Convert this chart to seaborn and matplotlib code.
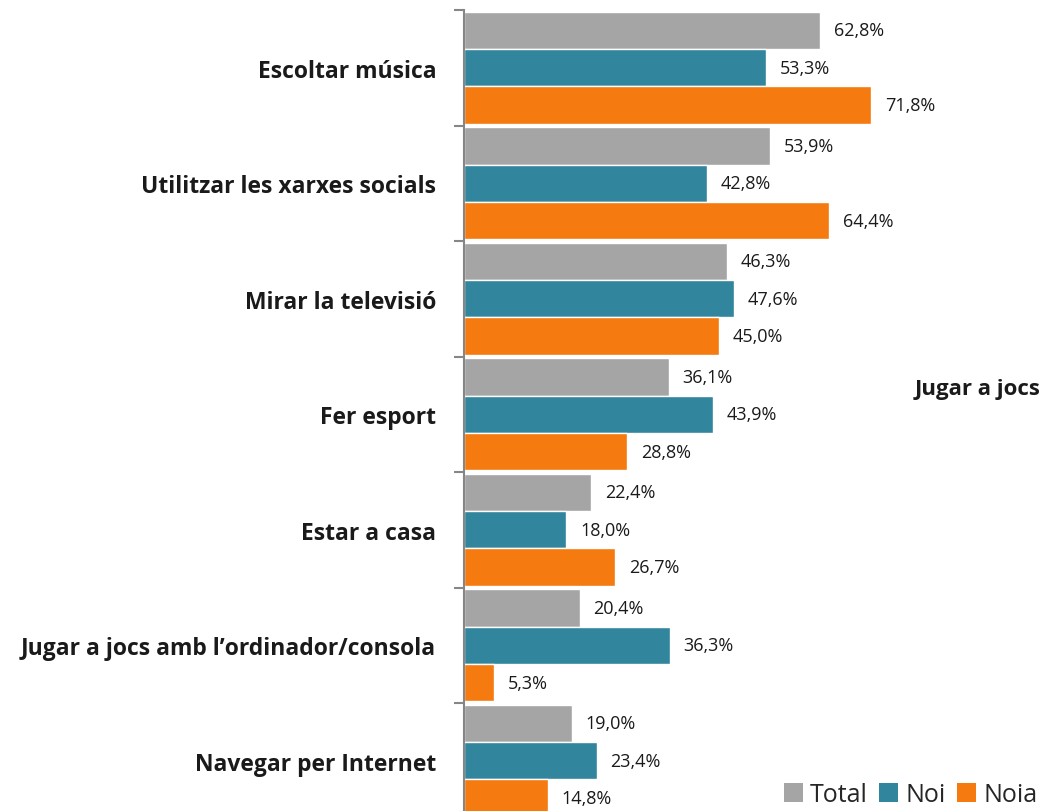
import matplotlib
matplotlib.use("Agg")
import matplotlib.pyplot as plt
import seaborn as sns
import pandas as pd
from matplotlib.patches import Patch
from matplotlib.ticker import FixedLocator

categories = ["Escoltar música", "Utilitzar les xarxes socials", "Mirar la televisió",
              "Fer esport", "Estar a casa", "Jugar a jocs amb l\u2019ordinador/consola",
              "Navegar per Internet"]
series = ["Total", "Noi", "Noia"]
total = [62.8, 53.9, 46.3, 36.1, 22.4, 20.4, 19.0]
noi = [53.3, 42.8, 47.6, 43.9, 18.0, 36.3, 23.4]
noia = [71.8, 64.4, 45.0, 28.8, 26.7, 5.3, 14.8]
colors = ["#A5A5A5", "#31859C", "#F57A10"]

rows = []
for s, vals in zip(series, [total, noi, noia]):
    for c, v in zip(categories, vals):
        rows.append({"cat": c, "serie": s, "val": v})
df = pd.DataFrame(rows)

sns.set_theme(style="white")
plt.rcParams["font.family"] = ["Open Sans", "DejaVu Sans"]

W, H = 1042, 812
fig = plt.figure(figsize=(W / 100, H / 100), dpi=100)
x0, xtop, ybot = 464, 11, 819.5
xw = 567
ax = fig.add_axes([x0 / W, (H - ybot) / H, xw / W, (ybot - xtop) / H])

sns.barplot(data=df, y="cat", x="val", hue="serie", order=categories, hue_order=series,
            palette=colors, saturation=1, orient="h", width=0.97, ax=ax, edgecolor="white",
            linewidth=1.0, legend=False)

ax.set_xlim(0, 100)
ax.set_ylim(6.5, -0.5)
ax.set_xlabel("")
ax.set_ylabel("")
ax.set_xticks([])
for sp in ["top", "right", "bottom"]:
    ax.spines[sp].set_visible(False)
ax.spines["left"].set_color("#868686")
ax.spines["left"].set_linewidth(1.5)

ax.yaxis.set_minor_locator(FixedLocator([i - 0.5 for i in range(8)]))
ax.tick_params(axis="y", which="major", length=0, pad=20, labelsize=16.5)
ax.tick_params(axis="y", which="minor", length=7, width=1.5, color="#868686", left=True)
for lbl in ax.get_yticklabels():
    lbl.set_fontweight("bold")
    lbl.set_color("#1a1a1a")

for cont in ax.containers:
    labels = [f"{b.get_width():.1f}%".replace(".", ",") for b in cont]
    ax.bar_label(cont, labels=labels, padding=10, fontsize=13, color="#1a1a1a")

fig.text(915 / W, 1 - 390 / H, "Jugar a jocs", fontsize=16,
         fontweight="bold", color="#1a1a1a", ha="left", va="center")

handles = [Patch(facecolor=c, edgecolor="none") for c in colors]
fig.legend(handles, series, loc="lower right", bbox_to_anchor=(1.01, -0.014), ncol=3,
           frameon=False, fontsize=18, handlelength=0.75, handleheight=0.75,
           handletextpad=0.3, columnspacing=0.45, borderaxespad=0.2)

fig.savefig("out.png", dpi=100)
